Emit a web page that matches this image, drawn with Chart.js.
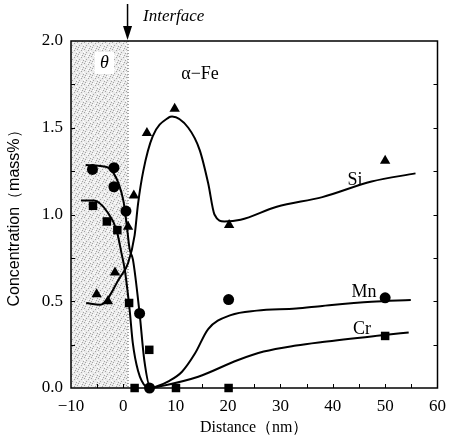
<!DOCTYPE html>
<html>
<head>
<meta charset="utf-8">
<script src="https://cdn.jsdelivr.net/npm/chart.js@4.4.1/dist/chart.umd.min.js"></script>
<style>
  html, body { margin: 0; padding: 0; background: #fff; }
  #wrap { width: 454px; height: 441px; }
</style>
</head>
<body>
<div id="wrap"><canvas id="chart"></canvas></div>
<script>
// measured points
const siX = [-5.1, -2.95, -1.6, 0.9, 2.0, 4.5, 9.8, 20.2, 50];
const siY = [0.54, 0.50, 0.665, 0.93, 1.11, 1.47, 1.61, 0.94, 1.31];
const mnX = [-5.9, -1.8, -1.8, 0.5, 3.1, 5.0, 20.1, 50];
const mnY = [1.26, 1.27, 1.16, 1.02, 0.43, 0.0, 0.51, 0.52];
const crX = [-5.8, -3.15, -1.15, 1.1, 2.15, 4.95, 10.05, 20.1, 50];
const crY = [1.05, 0.96, 0.91, 0.49, 0.0, 0.22, 0.0, 0.0, 0.30];

// fitted curves
const siCurveX = [-7.1, -4.4, -0.6, 0.9, 2.15, 2.8, 3.8, 5.6, 8.7, 9.3, 12.4, 14.6, 16.2, 17.4, 19.3, 22.4, 29.3, 38, 47.4, 55.8];
const siCurveY = [0.49, 0.48, 0.64, 0.72, 0.88, 1.06, 1.25, 1.45, 1.56, 1.565, 1.50, 1.37, 1.18, 1.0, 0.96, 0.97, 1.045, 1.10, 1.19, 1.237];
const mnCurveX = [-7.2, -4.4, -1.9, 0, 0.6, 1.2, 1.83, 3.1, 4.0, 5.2, 6.2, 8.7, 11.2, 13.7, 16.2, 20.5, 25.5, 33, 38, 47.4, 54.9];
const mnCurveY = [1.285, 1.28, 1.24, 1.08, 0.95, 0.80, 0.74, 0.43, 0.16, 0.0, 0.008, 0.04, 0.094, 0.2, 0.34, 0.42, 0.446, 0.458, 0.473, 0.497, 0.507];
const crCurveX = [-8.1, -5.6, -3.1, -1.3, -0.35, 0.28, 1.2, 1.8, 2.8, 4.3, 5.2, 6.8, 14.3, 21.8, 26.8, 33, 38, 49.8, 54.5];
const crCurveY = [1.08, 1.08, 1.016, 0.91, 0.776, 0.68, 0.45, 0.26, 0.10, 0.008, 0.0, 0.008, 0.065, 0.16, 0.21, 0.245, 0.265, 0.305, 0.32];

const xTicks = [-10, 0, 10, 20, 30, 40, 50, 60];
const yTicks = [0.0, 0.5, 1.0, 1.5, 2.0];
const interfaceX = 0.8;

const serif = "'Liberation Serif', 'DejaVu Serif', serif";
const sans = "'Liberation Sans', 'DejaVu Sans', sans-serif";

function pts(xs, ys) {
  return xs.map((x, i) => ({ x: x, y: ys[i] }));
}

function curve(xs, ys) {
  return {
    data: pts(xs, ys),
    showLine: true,
    borderColor: "#000",
    borderWidth: 2,
    pointRadius: 0,
    cubicInterpolationMode: "monotone",
    clip: false
  };
}

function marks(xs, ys, style, r) {
  return {
    data: pts(xs, ys),
    showLine: false,
    pointStyle: style,
    pointRadius: r,
    pointBackgroundColor: "#000",
    pointBorderColor: "#000",
    pointBorderWidth: 0,
    clip: false
  };
}

// stippled fill for the theta phase
function makePattern() {
  const c = document.createElement("canvas");
  c.width = 7; c.height = 7;
  const g = c.getContext("2d");
  g.fillStyle = "#ebebeb";
  g.fillRect(0, 0, 7, 7);
  g.fillStyle = "#a4a4a4";
  [[0, 0], [4, 1], [2, 3], [6, 4], [1, 5], [5, 6]].forEach(p => g.fillRect(p[0], p[1], 1, 1));
  g.fillStyle = "#ffffff";
  [[3, 0], [6, 2], [0, 3], [4, 5], [2, 6]].forEach(p => g.fillRect(p[0], p[1], 1, 1));
  return c;
}

const decor = {
  id: "decor",
  beforeDatasetsDraw(chart) {
    const { ctx, chartArea: a, scales: { x, y } } = chart;
    const xi = x.getPixelForValue(interfaceX);
    ctx.save();
    ctx.fillStyle = ctx.createPattern(makePattern(), "repeat");
    ctx.fillRect(a.left, a.top, xi - a.left, a.bottom - a.top);
    ctx.strokeStyle = "#555";
    ctx.lineWidth = 1;
    ctx.setLineDash([1, 2]);
    ctx.beginPath();
    ctx.moveTo(xi + 0.5, a.top);
    ctx.lineTo(xi + 0.5, a.bottom);
    ctx.stroke();
    ctx.setLineDash([]);

    // theta box
    ctx.fillStyle = "#fff";
    ctx.fillRect(95, 52, 19, 22);
    ctx.fillStyle = "#000";
    ctx.font = "italic 18px " + serif;
    ctx.textAlign = "center";
    ctx.textBaseline = "middle";
    ctx.fillText("θ", 104.5, 63);
    ctx.restore();
  },
  afterDraw(chart) {
    const { ctx, chartArea: a, scales: { x, y } } = chart;
    ctx.save();
    ctx.strokeStyle = "#000";
    ctx.lineWidth = 1.5;
    ctx.strokeRect(a.left, a.top, a.right - a.left, a.bottom - a.top);

    // inward ticks
    ctx.lineWidth = 1;
    ctx.beginPath();
    for (let v = -5; v < 60; v += 5) {
      const px = Math.round(x.getPixelForValue(v)) + 0.5;
      ctx.moveTo(px, a.bottom);
      ctx.lineTo(px, a.bottom - 4);
    }
    for (let v = 0.25; v < 2; v += 0.25) {
      const py = Math.round(y.getPixelForValue(v)) + 0.5;
      ctx.moveTo(a.left, py);
      ctx.lineTo(a.left + 4, py);
      ctx.moveTo(a.right, py);
      ctx.lineTo(a.right - 4, py);
    }
    ctx.stroke();

    // interface arrow
    const xi = x.getPixelForValue(interfaceX);
    ctx.lineWidth = 1.5;
    ctx.beginPath();
    ctx.moveTo(xi, 4);
    ctx.lineTo(xi, 30);
    ctx.stroke();
    ctx.beginPath();
    ctx.moveTo(xi - 4.5, 26);
    ctx.lineTo(xi + 4.5, 26);
    ctx.lineTo(xi, a.top - 1);
    ctx.closePath();
    ctx.fill();

    ctx.fillStyle = "#000";
    ctx.textBaseline = "middle";
    ctx.textAlign = "left";
    ctx.font = "italic 17px " + serif;
    ctx.fillText("Interface", 143, 17);
    ctx.font = "18px " + serif;
    ctx.textAlign = "center";
    ctx.fillText("α−Fe", 200, 74);
    ctx.fillText("Si", 355, 180);
    ctx.fillText("Mn", 364, 292);
    ctx.fillText("Cr", 362, 329);
    ctx.restore();
  }
};

new Chart(document.getElementById("chart").getContext("2d"), {
  type: "scatter",
  data: {
    datasets: [
      curve(siCurveX, siCurveY),
      curve(mnCurveX, mnCurveY),
      curve(crCurveX, crCurveY),
      marks(siX, siY, "triangle", 6),
      marks(mnX, mnY, "circle", 5.5),
      marks(crX, crY, "rect", 6)
    ]
  },
  options: {
    responsive: true,
    maintainAspectRatio: false,
    animation: false,
    events: [],
    layout: { padding: { top: 41, right: 9, left: 0, bottom: 0 } },
    plugins: { legend: { display: false }, tooltip: { enabled: false } },
    scales: {
      x: {
        type: "linear",
        min: -10,
        max: 60,
        afterBuildTicks: s => { s.ticks = xTicks.map(v => ({ value: v })); },
        afterFit: s => { s.height = 53; },
        grid: { display: false, drawTicks: false },
        border: { display: false },
        ticks: {
          color: "#000",
          padding: 8,
          font: { family: serif, size: 17 },
          callback: v => String(v).replace("-", "−")
        },
        title: {
          display: true,
          text: "Distance（nm）",
          color: "#000",
          font: { family: serif, size: 16 },
          padding: { top: 0, bottom: 4 }
        }
      },
      y: {
        type: "linear",
        min: 0,
        max: 2,
        afterBuildTicks: s => { s.ticks = yTicks.map(v => ({ value: v })); },
        afterFit: s => { s.width = 71; },
        grid: { display: false, drawTicks: false },
        border: { display: false },
        ticks: {
          color: "#000",
          padding: 8,
          font: { family: serif, size: 17 },
          callback: v => Number(v).toFixed(1)
        },
        title: {
          display: true,
          text: "Concentration（mass%）",
          color: "#000",
          font: { family: sans, size: 16 },
          padding: { top: 5, bottom: 0 }
        }
      }
    }
  },
  plugins: [decor]
});
</script>
</body>
</html>
